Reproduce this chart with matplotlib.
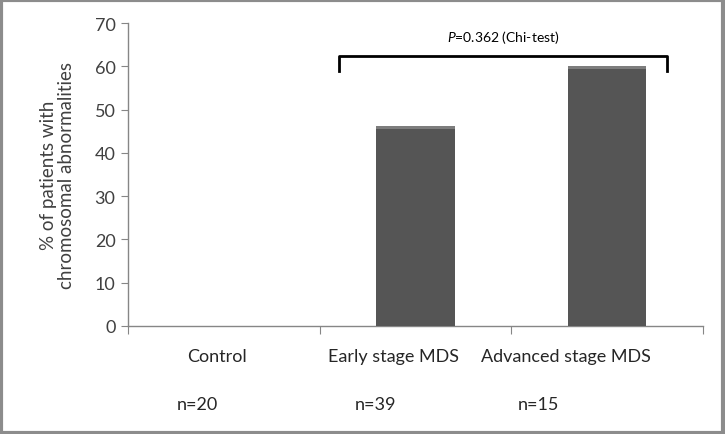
import matplotlib
matplotlib.use("Agg")
import matplotlib.pyplot as plt
from matplotlib.patches import Rectangle

plt.rcParams['font.family'] = ['Lato', 'DejaVu Sans']
plt.rcParams['mathtext.fontset'] = 'custom'
plt.rcParams['mathtext.it'] = 'Lato:italic'
plt.rcParams['mathtext.rm'] = 'Lato'

# data
groups = ['Control', 'Early stage MDS', 'Advanced stage MDS']
n_labels = ['n=20', 'n=39', 'n=15']
percent = [0, 46.2, 60.0]
p_text = '$\\it{P}$=0.362 (Chi-test)'

axis_gray = '#868686'
text_col = '#404040'

fig = plt.figure(figsize=(7.25, 4.35), dpi=100)
ax = fig.add_axes([0.1766, 0.2483, 0.7924, 0.6965])

x = list(range(len(groups)))
ax.bar(x, percent, width=0.41, color='#555555', linewidth=0, zorder=3)
# lighter top bevel
bev = [0.0 if v == 0 else 0.7 for v in percent]
ax.bar(x, bev, bottom=[v - b for v, b in zip(percent, bev)],
       width=0.41, color='#7d7d7d', linewidth=0, zorder=4)

ax.set_xlim(-0.5, 2.5)
ax.set_ylim(0, 70)
ax.set_yticks(range(0, 71, 10))
ax.set_xticks([-0.5, 0.5, 1.5, 2.5])
ax.set_xticklabels([])
ax.tick_params(axis='y', direction='out', length=5, color=axis_gray, labelsize=13,
               labelcolor=text_col, pad=4)
ax.tick_params(axis='x', direction='out', length=6, color=axis_gray)

for s in ['top', 'right']:
    ax.spines[s].set_visible(False)
for s in ['left', 'bottom']:
    ax.spines[s].set_color(axis_gray)
    ax.spines[s].set_linewidth(1.0)

ax.set_ylabel('% of patients with\nchromosomal abnormalities', fontsize=13.5,
              color=text_col, labelpad=14, linespacing=1.1)

# category and n labels below axis
label_x = [-0.035, 0.884, 1.787]
n_x = [-0.14, 0.79, 1.641]
for xi, g in zip(label_x, groups):
    ax.text(xi, -0.1, g, transform=ax.get_xaxis_transform(), ha='center', va='center',
            fontsize=13, color='#262626')
for xi, n in zip(n_x, n_labels):
    ax.text(xi, -0.258, n, transform=ax.get_xaxis_transform(), ha='center', va='center',
            fontsize=13, color='#262626')

# bracket and p-value
bx0, bx1 = 0.602, 2.315
ax.plot([bx0, bx0, bx1, bx1], [58.9, 62.4, 62.4, 58.9], color='black', lw=2,
        solid_joinstyle='round', clip_on=False, zorder=5)
ax.text((bx0 + bx1) / 2, 66.8, p_text, ha='center', va='center', fontsize=10, color='black')

# figure border
fig.patches.append(Rectangle((0.002, 0.003), 0.995, 0.994, transform=fig.transFigure,
                             fill=False, edgecolor='#8c8c8c', linewidth=3))

plt.savefig('out.png', dpi=100)
